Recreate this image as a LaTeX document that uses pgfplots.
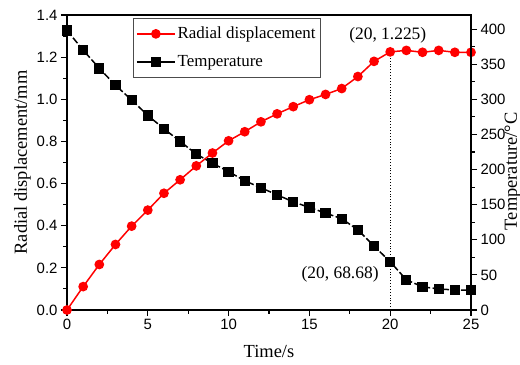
\documentclass[border=0pt]{standalone}
\usepackage{fontspec}
\setmainfont{Liberation Serif}
\newfontfamily\arial{Liberation Sans}
\usepackage{pgfplots}
\pgfplotsset{compat=1.18}
\begin{document}
\begin{tikzpicture}[x=1bp,y=1bp]
\pgfplotsset{
  every axis/.append style={
    scale only axis, width=404bp, height=295bp,
    xmin=0, xmax=25,
    tick align=outside,
    major tick length=6bp, minor tick length=3.5bp,
    every tick/.style={black, line width=1.1pt},
    axis line style={line width=1.5pt},
    tick label style={font=\arial\fontsize{15}{15}\selectfont},
    /pgf/number format/assume math mode=true,
    label style={font=\fontsize{18.5}{20}\selectfont},
  }
}
\begin{axis}[name=ax,
  ymin=0, ymax=1.4,
  xtick={0,5,...,25}, minor x tick num=1,
  ytick={0,0.2,...,1.4}, minor y tick num=1,
  xtick pos=bottom, ytick pos=left,
  yticklabel style={/pgf/number format/.cd, fixed, fixed zerofill, precision=1},
  xlabel={Time/s}, ylabel={Radial displacement/mm},
  xlabel style={yshift=-8bp},
  ylabel style={yshift=-1bp},
]
\addplot[black, dotted, line width=0.9pt] coordinates {(20,0) (20,1.225)};
\addplot[red, line width=1.5pt, mark=*, mark size=4.1pt, mark options={solid, fill=red}] coordinates {
(0,0) (1,0.111) (2,0.216) (3,0.311) (4,0.398) (5,0.474) (6,0.554) (7,0.618) (8,0.684)
(9,0.745) (10,0.803) (11,0.846) (12,0.893) (13,0.931) (14,0.965) (15,0.998) (16,1.023)
(17,1.051) (18,1.108) (19,1.180) (20,1.225) (21,1.232) (22,1.223) (23,1.232) (24,1.223) (25,1.223)};
\node[font=\fontsize{17.5}{17.5}\selectfont] at (axis cs:19.85,1.305) {(20, 1.225)};
\node[font=\fontsize{17.5}{17.5}\selectfont] at (axis cs:16.9,0.168) {(20, 68.68)};
\end{axis}
\begin{axis}[
  ymin=0, ymax=420,
  axis x line=none, axis y line*=right,
  ytick={0,50,...,400}, minor y tick num=1,
  ylabel={Temperature/°C},
  ylabel style={at={(axis description cs:1.08,0.47)}, anchor=north, inner sep=1bp},
  legend style={at={(0.163,0.99)}, anchor=north west, draw=black!70, line width=0.6pt,
    font=\fontsize{17}{18}\selectfont, inner xsep=3bp, inner ysep=7bp,
    row sep=11bp},
  legend cell align=left,
  legend image code/.code={\draw[#1, solid] (0bp,0bp) -- (38bp,0bp); \draw[#1, solid] plot coordinates {(19bp,0bp)};},
]
\addlegendimage{red, line width=1.5pt, mark=*, mark size=4.1pt, mark options={solid, fill=red}}
\addlegendentry{Radial displacement\hspace{10bp}}
\addplot[black, line width=1.5pt, dash pattern=on 7bp off 2.5bp, mark=square*, mark size=4.4pt, mark options={solid, fill=black}] coordinates {
(0,398) (1,370) (2,344) (3,320) (4,299) (5,277) (6,258) (7,240) (8,222) (9,209)
(10,197) (11,184) (12,174) (13,164) (14,154) (15,146) (16,138) (17,130) (18,114)
(19,91) (20,68.68) (21,43) (22,33) (23,30) (24,28.5) (25,28)};
\addlegendentry{Temperature}
\end{axis}
\pgfresetboundingbox
\path ([xshift=-67bp,yshift=-55bp]ax.south west) rectangle ([xshift=49bp,yshift=15bp]ax.north east);
\end{tikzpicture}
\end{document}
